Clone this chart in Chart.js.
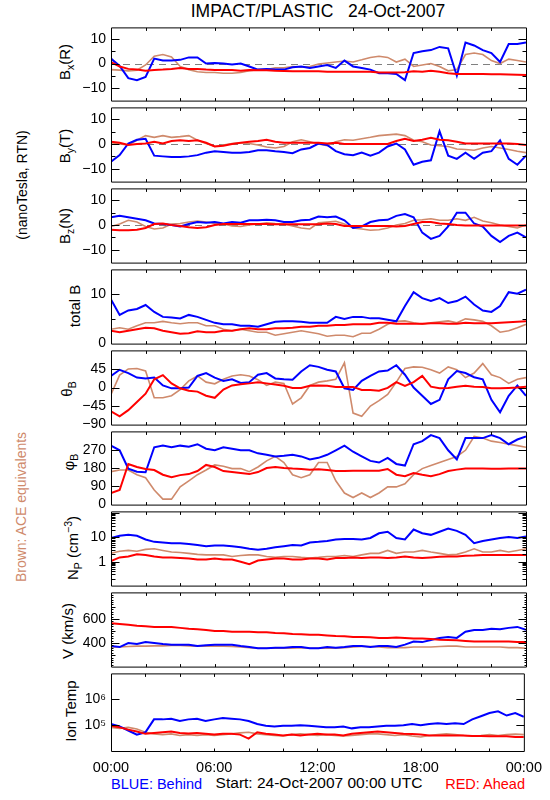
<!DOCTYPE html>
<html>
<head>
<meta charset="utf-8">
<script src="https://cdn.jsdelivr.net/npm/chart.js@4.4.1/dist/chart.umd.min.js"></script>
<style>
  body { margin: 0; background: #fff; }
  #page { position: relative; width: 550px; height: 800px; overflow: hidden; font-family: "Liberation Sans", Arial, sans-serif; color: #000; }
  canvas { position: absolute; left: 0; }
  .t { position: absolute; white-space: pre; line-height: 1; }
  .c { transform: translate(-50%, -50%); }
  .r { transform: translate(-50%, -50%) rotate(-90deg); }
  sub, sup { font-size: 70%; line-height: 0; }
</style>
</head>
<body>
<div id="page">
  <div class="t c" style="left:318px;top:12px;font-size:17.5px">IMPACT/PLASTIC   24-Oct-2007</div>

  <div class="t r" style="left:22px;top:185px;font-size:14px">(nanoTesla, RTN)</div>
  <div class="t r" style="left:21px;top:507px;font-size:14px;color:#cf8a6c">Brown: ACE equivalents</div>

  <div class="t r" style="left:64px;top:62px;font-size:15px">B<sub>x</sub>(R)</div>
  <div class="t r" style="left:64px;top:146px;font-size:15px">B<sub>y</sub>(T)</div>
  <div class="t r" style="left:64px;top:226px;font-size:15px">B<sub>z</sub>(N)</div>
  <div class="t r" style="left:74px;top:306px;font-size:15px">total B</div>
  <div class="t r" style="left:66px;top:389px;font-size:15px">θ<sub>B</sub></div>
  <div class="t r" style="left:68px;top:462px;font-size:15px">φ<sub>B</sub></div>
  <div class="t r" style="left:72px;top:548px;font-size:15px">N<sub>P</sub> (cm<sup>−3</sup>)</div>
  <div class="t r" style="left:67px;top:631px;font-size:15px">V (km/s)</div>
  <div class="t r" style="left:70px;top:711px;font-size:15px">Ion Temp</div>

  <div class="t" style="left:111px;top:777px;font-size:14.5px;color:#0000ff">BLUE: Behind</div>
  <div class="t c" style="left:319px;top:783px;font-size:15.5px">Start: 24-Oct-2007 00:00 UTC</div>
  <div class="t" style="right:25px;top:777px;font-size:14.5px;color:#ff0000">RED: Ahead</div>
</div>

<script>
// time of each sample, hours after 24-Oct-2007 00:00 UTC
const hours = [0,0.5,1,1.5,2,2.5,3,3.5,4,4.5,5,5.5,6,6.5,7,7.5,8,8.5,9,9.5,10,10.5,11,11.5,12,
  12.5,13,13.5,14,14.5,15,15.5,16,16.5,17,17.5,18,18.5,19,19.5,20,20.5,21,21.5,22,22.5,23,23.5,24];

// Bx (R), nT
const bxBlue = [2,-1,-6,-6.8,-5.5,2,1.2,1.2,1.5,2.5,2.5,0,0.2,0,-0.4,0,-1.2,-2.5,-2.2,-2.5,-2.5,-1.5,-1.2,-1.8,-1.2,
  -0.6,-1.8,1.2,-1.2,-1.8,-2.5,-4,-4,-4.3,-6.8,4.3,5,5.5,6.8,6.2,-5,8.6,7.4,5.5,4.3,0.6,8,8,8.6];
const bxRed = [0.6,-1.2,-2.2,-2.5,-3,-2.7,-2.5,-2.2,-1.8,-2.2,-2.2,-2.5,-2.7,-2.7,-2.7,-3,-2.7,-2.8,-2.8,-3,-3.1,-3.2,-3.2,-3.2,-3.2,
  -3.4,-3.4,-3.4,-3.4,-3.4,-3.4,-3.7,-3.7,-3.7,-3.6,-3.2,-3.4,-3,-3.4,-4,-4.3,-4.3,-4.3,-4.3,-4.4,-4.4,-4.5,-4.6,-4.7];
const bxBrown = [-2.5,-2.7,-3,-2.7,-0.6,3,3.7,2.7,-1.2,-2.5,-3.4,-3.7,-3.7,-4,-4,-3.7,-3,-2.5,-2.5,-1.8,-1.8,-1.2,-1.5,-1.2,-0.2,
  0.2,0.6,1,0.6,1.5,2.5,3,2.5,0.6,1.8,-1.2,-0.6,0,-1.2,-3,-2.5,3.7,4.3,3.7,1.2,0,1.8,1.2,0.6];

// By (T), nT
const byBlue = [-7.2,-4.5,0.2,1.7,2.1,-4.7,-5,-5.3,-5.3,-5,-4.5,-3.5,-2.9,-3.2,-3.5,-3.5,-3.2,-2.5,-2.5,-2.9,-3.2,-3.7,-2.2,-1.6,0.2,
  -0.4,-2.9,-4.1,-4.5,-3.5,-4.7,-3.5,-1,0.2,-2.2,-8.4,-7.2,-6.6,5.2,-4.7,-6,-3.5,-6,-3.5,-2.9,1.5,-6,-8.4,-4.7];
const byRed = [0.9,0.5,-0.4,0,0.2,0.9,0.2,1.2,1.5,1.2,1.5,0.5,-1,-0.7,0,0.5,0.9,1.2,1.7,0.9,0.5,0.5,0.5,0.5,0.5,
  0.2,0.5,0,0,0,0,0,0,1.2,2.1,1.2,1.7,2.5,1.7,1.5,0.9,0.2,0.2,0.2,0.2,0.2,0.2,0,-0.4];
const byBrown = [0.5,0,-0.4,1.5,3.4,2.7,3.4,2.7,3,3.4,1.5,0.2,-1,-0.4,0.2,0.5,0.2,-0.4,-1.2,-1.6,-1,0.9,1.7,0.9,0,
  -0.7,0.9,1.7,1.5,2.1,2.7,3.4,3.7,4,3.4,1.5,0.9,-0.4,-0.7,-1,-2,-2.2,-2.5,-1.6,-1,-1.6,-2.2,-2.9,-3.5];

// Bz (N), nT
const bzBlue = [3.1,3.7,3.1,2.5,1.9,0.6,0.4,0,-0.6,0.4,1.2,0.9,1.2,0.6,1.2,0.9,1.9,1.9,2.1,1.9,1.2,1.2,1.9,2.1,3.4,
  3.1,3.4,1.9,-1.2,-0.6,1.2,1.9,2.1,3.7,4.4,3.1,-3.1,-5.6,-4.4,-0.6,5,5,0.6,-0.6,-4.4,-6.9,-4.4,-3.1,-5];
const bzRed = [-1.9,-2.1,-2.1,-1.9,-1.2,0.4,0.6,0,-0.4,-0.9,-1.2,-0.9,0,0.4,0.4,0.4,0.4,0.4,0.4,0.3,0.3,0.3,0.3,0.3,0.3,
  0.6,0.4,-0.4,-0.4,-0.4,-0.4,-0.4,-0.4,-0.6,-0.4,0.4,1.2,1.2,0.6,0.4,0,-0.2,-0.2,-0.2,-0.2,-0.2,-0.2,-0.2,-0.2];
const bzBrown = [-0.6,0.4,1.9,1.2,-0.6,-1.6,-1.2,0.4,0.6,1.2,1.6,1.2,0.6,0.4,-0.4,-0.6,0,0.4,0.9,0.6,0.4,-0.4,-1.2,-1.6,0.9,
  1.2,1.5,0.4,-1.2,-1.6,-2.1,-1.9,-1.2,0,0.6,1.9,2.1,2.5,1.9,1.9,2.5,1.9,3.1,1.6,0.9,0,-0.6,-1.2,0];

// |B|, nT
const btBlue = [8.9,5.8,6.7,7,7.8,6.4,5.4,5.3,5.1,5.8,5.4,4.8,4.2,3.9,3.9,3.6,3.6,3.4,3.9,4.4,4.5,4.5,4.4,4.2,4.2,
  4.2,5.4,5,5.4,5.4,5.1,5.1,4.8,4.5,7.6,10.4,9.2,8.6,9.2,8.2,8.6,9.5,7.9,6.7,6.4,7.6,10.4,10.1,10.9];
const btRed = [2.6,2.3,2.6,2.9,3.2,3.1,2.6,2.3,2,2.1,2.5,2.3,2.3,2.6,2.6,2.9,3.1,2.9,2.9,3.1,3.1,3.2,3.4,3.4,3.6,
  3.6,3.75,3.75,3.9,3.9,3.9,4.2,4.2,4,4,4,4,4.1,4.1,4,4,4.2,4.1,4.1,4.1,4.2,4.3,4.4,4.5];
const btBrown = [2.9,3.2,2.9,3.6,4.2,4.2,4.5,4.2,4,4.2,4.2,3.6,3.6,2.9,2.6,2.9,2.6,2.3,2.3,1.7,2,2.3,2.6,2.3,2,
  1.5,1.7,1.7,1.4,2.1,2.1,2.9,3.9,4.5,4.6,4.2,3.9,4.2,4.4,4.6,4.2,5,4.8,4.5,3.6,2.3,2.6,3.2,3.9];

// theta_B, degrees
const thBlue = [28,43,35,24,22,24,5,-2,-2,0,28,35,24,16,20,11,13,31,35,22,20,19,39,54,50,
  43,39,-2,-6,16,28,39,41,54,31,0,-20,-40,-30,20,40,35,25,20,-30,-60,-20,5,-20];
const thRed = [-58,-70,-55,-35,-15,20,30,10,-2,-8,-10,-20,-25,-5,5,8,10,13,10,7,4,-1,-1,4,5,
  4,1.5,1.5,1.5,-6,-6,-8,-1,13,4,13,28,2,-2,-1,2,4,2,1,-2,-2,-1,0,2];
const thBrown = [-17,30,45,46,40,-25,-25,-20,-5,16,28,13,9,20,28,31,28,19,5,13,10,-40,-25,5,13,
  16,20,60,-62,-70,-45,-32,-17,13,46,50,49,43,35,50,43,24,35,58,31,24,10,20,24];

// phi_B, degrees
const phBlue = [290,267,177,162,159,282,290,282,290,285,297,275,267,282,275,267,267,252,245,237,240,245,237,222,230,
  245,267,290,260,237,215,207,230,200,192,297,312,342,327,267,222,327,327,327,342,327,297,320,335];
const phRed = [57,72,200,185,175,170,147,135,145,150,165,195,185,165,160,155,150,160,180,185,180,177,175,172,174,
  170,165,165,166,167,167,167,175,147,140,155,147,140,150,165,172,177,177,177,176,176,177,177,177];
const phBrown = [162,170,170,147,132,72,27,27,87,117,147,170,195,189,177,177,162,185,215,237,207,147,132,147,207,
  207,117,57,35,57,35,57,87,87,102,147,177,192,207,222,237,267,335,327,312,305,297,290,282];

// proton density, cm^-3
const npBlue = [9.4,11.5,12.6,11.5,8.1,6.5,6.1,5.7,5.7,5.3,4.8,4.3,4.6,4.6,4.3,3.9,3.4,3.1,3.4,3.9,4.3,4.8,4.6,6.1,6.5,
  7.1,8.1,8.6,8.6,8.1,9.4,14.6,16.9,9.4,8.1,20.8,14.6,12.6,16.9,22.6,18.4,12.6,5.7,7.1,8.1,9.4,10.3,9.4,10.9];
const npRed = [1.06,1.5,1.64,2,1.9,1.64,1.5,1.5,1.42,1.34,1.23,1.23,1.34,1.23,1.23,1,0.79,1.12,1.23,1.34,1.34,1.23,1.23,1.34,1.34,
  1.23,1.42,1.42,1.5,1.42,1.5,1.5,1.42,1.5,1.64,1.5,1.42,1.5,1.6,1.64,1.64,1.74,1.79,1.9,1.9,1.9,1.9,1.9,1.9];
const npBrown = [2.2,2.7,2.9,2.7,3.2,3.4,2.9,2.5,2.4,2.2,2,1.9,1.9,1.9,1.64,1.79,1.9,1.9,1.64,1.5,1.64,1.64,1.5,1.42,1.5,
  1.64,1.64,1.79,1.64,1.9,2.2,2.2,2.9,2.2,2.5,2.5,2.9,2.5,2.2,1.9,2,2.5,3.4,2.5,2.5,2.9,2.5,2.9,3.4];

// bulk speed, km/s
const vBlue = [375,367,400,392,408,400,392,387,387,387,375,382,387,387,387,375,367,357,357,362,362,367,367,357,357,
  367,362,367,375,375,367,375,375,367,387,413,408,425,443,451,443,494,509,509,519,514,526,534,509];
const vRed = [564,559,552,544,539,534,534,534,526,519,514,509,501,501,494,494,494,489,489,484,482,476,474,468,468,
  463,458,456,451,451,449,443,443,446,443,438,438,433,428,425,423,418,413,413,413,413,413,408,408];
const vBrown = [367,367,372,375,375,377,377,380,380,377,375,375,375,375,372,367,362,357,357,357,357,357,362,357,357,
  357,357,362,367,372,372,367,362,362,362,367,367,367,372,375,375,367,367,367,367,367,362,362,357];

// ion temperature, K
const tBlue = [1.1e5,8.9e4,6.2e4,4.3e4,5.3e4,1.67e5,1.67e5,1.77e5,1.45e5,1.67e5,1.77e5,1.45e5,1.67e5,1.87e5,1.77e5,1.67e5,1.45e5,1.1e5,9.5e4,8.9e4,9.5e4,9.5e4,1e5,9.5e4,8.9e4,
  8.2e4,8.2e4,8.9e4,7.5e4,8.2e4,8.2e4,8.9e4,9.5e4,9.5e4,1e5,1.1e5,1e5,1.1e5,1.19e5,1.1e5,1.19e5,1.1e5,1.67e5,2.2e5,2.95e5,3.4e5,2.35e5,2.95e5,2.1e5];
const tRed = [9.5e4,8.2e4,6.7e4,5.7e4,4.6e4,5e4,5.3e4,5.7e4,5e4,4.8e4,5e4,4.6e4,4.3e4,4.6e4,4.6e4,4.3e4,3e4,5.3e4,4.6e4,4.3e4,4e4,4.3e4,4e4,4.3e4,4.6e4,
  4.3e4,4.3e4,4e4,4.6e4,5e4,5.3e4,5.7e4,5.3e4,5e4,4.6e4,4.5e4,4.3e4,4e4,4e4,4e4,4e4,4e4,3.8e4,3.8e4,3.7e4,3.7e4,3.7e4,3.5e4,3.5e4];
const tBrown = [8.2e4,7.5e4,8.2e4,7.1e4,5.3e4,4.6e4,4.3e4,4.6e4,4e4,4.3e4,4e4,4.3e4,4e4,4.3e4,4.6e4,5e4,5.3e4,4.6e4,4.3e4,4e4,3.8e4,4.3e4,4.6e4,4.3e4,4e4,
  4.3e4,4e4,3.8e4,4e4,4.3e4,4.6e4,4.6e4,4.3e4,4e4,4.3e4,3.8e4,3.5e4,4e4,4.3e4,4.6e4,4.3e4,4e4,3.8e4,4e4,4.3e4,4e4,4.3e4,4.5e4,4.3e4];

// axis ticks
const timeTicks = [0, 6, 12, 18, 24];
const timeLabels = ['00:00', '06:00', '12:00', '18:00', '00:00'];
const hourTicks = [2, 4, 6, 8, 10, 12, 14, 16, 18, 20, 22];
const bTicks = [-10, 0, 10];
const btTicks = [0, 10];
const thTicks = [-90, -45, 0, 45];
const phTicks = [0, 90, 180, 270];
const npTicks = [1, 10];
const vTicks = [400, 600];
const tTicks = [1e5, 1e6];

const BLUE = '#0000ff', RED = '#ff0000', BROWN = '#cf8a6c';
const edges = [24, 104, 185, 266, 347, 428, 508, 589, 670, 751];
const PAD = 10, AXH = 24, LEFT = 111, RIGHT = 24;

const minus = v => (v < 0 ? '\u2212' + Math.abs(v) : String(v));
const logMinor = [0.2,0.3,0.4,0.5,0.6,0.7,0.8,0.9,2,3,4,5,6,7,8,9,20,30,40,50,60,70,80,90];
const vFine = [];
for (let v = 220; v <= 800; v += 20) vFine.push(v);

const panels = [
  { s: [bxRed, bxBlue, bxBrown], min: -15.2, max: 14.8, ticks: bTicks, major: bTicks, minor: [-5, 5], zero: true, fmt: minus },
  { s: [byRed, byBlue, byBrown], min: -15.2, max: 14.8, ticks: bTicks, major: bTicks, minor: [-5, 5], zero: true, fmt: minus },
  { s: [bzRed, bzBlue, bzBrown], min: -15.2, max: 14.8, ticks: bTicks, major: bTicks, minor: [-5, 5], zero: true, fmt: minus },
  { s: [btRed, btBlue, btBrown], min: 0, max: 15, ticks: btTicks, major: btTicks, minor: [5], fmt: minus },
  { s: [thRed, thBlue, thBrown], min: -90, max: 90, ticks: thTicks, major: thTicks, minor: [], fmt: minus },
  { s: [phRed, phBlue, phBrown], min: 0, max: 360, ticks: phTicks, major: phTicks, minor: [], fmt: minus },
  { s: [npRed, npBlue, npBrown], min: 0.105, max: 115, log: true, ticks: npTicks, major: [1, 10, 100], minor: logMinor, fmt: v => String(v) },
  { s: [vRed, vBlue, vBrown], min: 205, max: 820, ticks: vTicks, major: vTicks, minor: [300, 500, 700], fine: vFine, fmt: v => String(v) },
  { s: [tRed, tBlue, tBrown], min: 1e4, max: 1e7, log: true, ticks: tTicks, major: tTicks, minor: [], fmt: v => (v === 1e5 ? '10\u2075' : '10\u2076') }
];

// box, inward ticks and dashed zero line, all placed through the chart's own scales
const framePlugin = {
  id: 'frame',
  beforeDatasetsDraw(chart, args, o) {
    if (!o.zero) return;
    const { ctx, chartArea: a, scales: { y } } = chart;
    const py = Math.round(y.getPixelForValue(0)) + 0.5;
    ctx.save();
    ctx.strokeStyle = '#808080';
    ctx.lineWidth = 1;
    ctx.setLineDash([7, 5]);
    ctx.beginPath();
    ctx.moveTo(a.left, py);
    ctx.lineTo(a.right, py);
    ctx.stroke();
    ctx.restore();
  },
  afterDatasetsDraw(chart, args, o) {
    const { ctx, chartArea: a, scales: { x, y } } = chart;
    const L = a.left + 0.5, R = a.right + 0.5, T = a.top + 0.5, B = a.bottom + 0.5;
    ctx.save();
    ctx.strokeStyle = '#000';
    ctx.lineWidth = 1;
    ctx.beginPath();
    ctx.moveTo(L, T); ctx.lineTo(R, T); ctx.lineTo(R, B); ctx.lineTo(L, B); ctx.closePath();
    const yTick = (v, len) => {
      const py = Math.round(y.getPixelForValue(v)) + 0.5;
      if (py < T || py > B) return;
      ctx.moveTo(L, py); ctx.lineTo(L + len, py);
      ctx.moveTo(R, py); ctx.lineTo(R - len, py);
    };
    o.major.forEach(v => yTick(v, 8));
    o.minor.forEach(v => yTick(v, 4));
    (o.fine || []).forEach(v => yTick(v, 2));
    hourTicks.forEach(h => {
      const px = Math.round(x.getPixelForValue(h)) + 0.5;
      ctx.moveTo(px, T); ctx.lineTo(px, T + 3);
      ctx.moveTo(px, B); ctx.lineTo(px, B - 3);
    });
    ctx.stroke();
    ctx.restore();
  }
};

function ds(vals, color, w) {
  return {
    data: hours.map((h, i) => ({ x: h, y: vals[i] })),
    borderColor: color,
    borderWidth: w,
    pointRadius: 0,
    tension: 0,
    fill: false
  };
}

const page = document.getElementById('page');
panels.forEach((p, i) => {
  const last = i === panels.length - 1;
  const ph = edges[i + 1] - edges[i];
  const cv = document.createElement('canvas');
  cv.width = 550;
  cv.height = PAD + ph + (last ? AXH : PAD);
  cv.style.top = (edges[i] - PAD) + 'px';
  page.appendChild(cv);

  new Chart(cv, {
    type: 'line',
    data: { datasets: [ds(p.s[0], RED, 2), ds(p.s[1], BLUE, 2), ds(p.s[2], BROWN, 1.6)] },
    options: {
      responsive: false,
      animation: false,
      events: [],
      layout: { padding: { left: 0, right: RIGHT, top: PAD, bottom: last ? 0 : PAD } },
      plugins: {
        legend: { display: false },
        tooltip: { enabled: false },
        frame: { zero: !!p.zero, major: p.major, minor: p.minor, fine: p.fine }
      },
      scales: {
        x: {
          type: 'linear', min: 0, max: 24, bounds: 'data',
          display: last,
          grid: { display: false, drawTicks: false },
          border: { display: false },
          afterBuildTicks: s => { s.ticks = timeTicks.map(v => ({ value: v })); },
          afterFit: s => { s.height = last ? AXH : 0; },
          ticks: {
            autoSkip: false, maxRotation: 0, padding: 8, color: '#000',
            font: { family: '"Liberation Sans", Arial, sans-serif', size: 14.5 },
            callback: v => timeLabels[timeTicks.indexOf(v)]
          }
        },
        y: {
          type: p.log ? 'logarithmic' : 'linear', min: p.min, max: p.max, bounds: 'data',
          grid: { display: false, drawTicks: false },
          border: { display: false },
          afterBuildTicks: s => { s.ticks = p.ticks.map(v => ({ value: v })); },
          afterFit: s => { s.width = LEFT; },
          ticks: {
            padding: 5, color: '#000',
            font: { family: '"Liberation Sans", Arial, sans-serif', size: 14 },
            callback: v => p.fmt(v)
          }
        }
      }
    },
    plugins: [framePlugin]
  });
});
</script>
</body>
</html>
